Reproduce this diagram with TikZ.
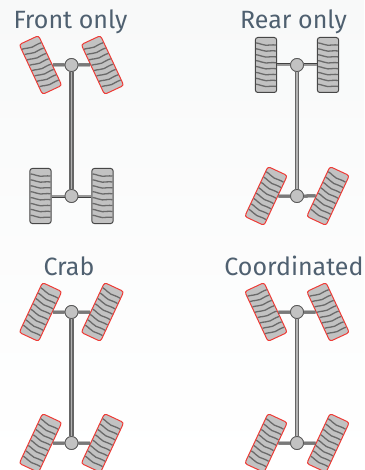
\documentclass[tikz,border=0pt]{standalone}
\usepackage{fontspec}
\setmainfont{Fira Sans}
\definecolor{labelc}{HTML}{4F6070}
\definecolor{tyre}{HTML}{C2C2C2}
\definecolor{tread}{HTML}{6A6A6A}
\definecolor{steer}{HTML}{EE3B36}
\definecolor{paper}{HTML}{F8F9F9}
\tikzset{
  x=1pt,y=-1pt,
  title/.style={font=\fontsize{25}{28}\selectfont,text=labelc,inner sep=0pt,anchor=base},
  shaft/.style={draw=black!60,line width=1.2pt,double=black!30,double distance=1.9pt},
  axlebar/.style={draw=black!75,line width=.8pt,double=black!40,double distance=1.4pt},
  hubn/.style={circle,draw=black!65,fill=tyre,line width=.8pt,minimum size=13pt,inner sep=0pt},
  wheelbox/.style={rectangle,rounded corners=2.5pt,fill=tyre,line width=1pt,minimum width=21.3pt,minimum height=55pt,inner sep=0pt},
  straightw/.style={wheelbox,draw=black!72},
  steerw/.style={wheelbox,draw=steer},
}
\newcommand{\treads}[3]{%
  \begin{scope}[shift={(#1,#2)},rotate=#3]
    \foreach \yy in {-20.5,-14.6,-8.7,-2.8,3.1,9,14.9,20.8}
      \draw[tread,line width=1.3pt] (-10,\yy-1.6) .. controls (-6,\yy-1.2) and (-3,\yy+.8) .. (0,\yy+.8) .. controls (3,\yy+.8) and (6,\yy) .. (10,\yy+.6);
  \end{scope}}
% #1 prefix, #2 hub x, #3 hub y, #4 wheel rotation, #5 wheel style
\newcommand{\axleset}[5]{%
  \node[#5,rotate=#4] (#1l) at (#2-31,#3) {};
  \node[#5,rotate=#4] (#1r) at (#2+31,#3) {};
  \draw[axlebar] (#1l) -- (#1h);
  \draw[axlebar] (#1r) -- (#1h);
  \treads{#2-31}{#3}{#4}
  \treads{#2+31}{#3}{#4}
  \node[hubn] at (#1h) {};
}
\begin{document}
\begin{tikzpicture}
\useasboundingbox (0,0) rectangle (364,470);
\shade[top color=paper,bottom color=white] (0,0) rectangle (364,470);
\node[title] (t1) at (70.5,28.5) {Front only};
\node[title] (t2) at (293.5,28.5) {Rear only};
\node[title] (t3) at (69,275) {Crab};
\node[title] (t4) at (294,275) {Coordinated};
\node[hubn] (ah) at (71.5,65) {};
\node[hubn] (bh) at (71.5,196) {};
\node[hubn] (ch) at (297,65) {};
\node[hubn] (dh) at (297,196) {};
\node[hubn] (eh) at (71.5,312) {};
\node[hubn] (fh) at (71.5,443) {};
\node[hubn] (gh) at (297,312) {};
\node[hubn] (hh) at (297,443) {};
\draw[shaft] (ah) -- (bh);
\draw[shaft] (ch) -- (dh);
\draw[shaft] (eh) -- (fh);
\draw[shaft] (gh) -- (hh);
\axleset{a}{71.5}{65}{25}{steerw}
\axleset{b}{71.5}{196}{0}{straightw}
\axleset{c}{297}{65}{0}{straightw}
\axleset{d}{297}{196}{-25}{steerw}
\axleset{e}{71.5}{312}{-25}{steerw}
\axleset{f}{71.5}{443}{-25}{steerw}
\axleset{g}{297}{312}{25}{steerw}
\axleset{h}{297}{443}{-25}{steerw}
\end{tikzpicture}
\end{document}
